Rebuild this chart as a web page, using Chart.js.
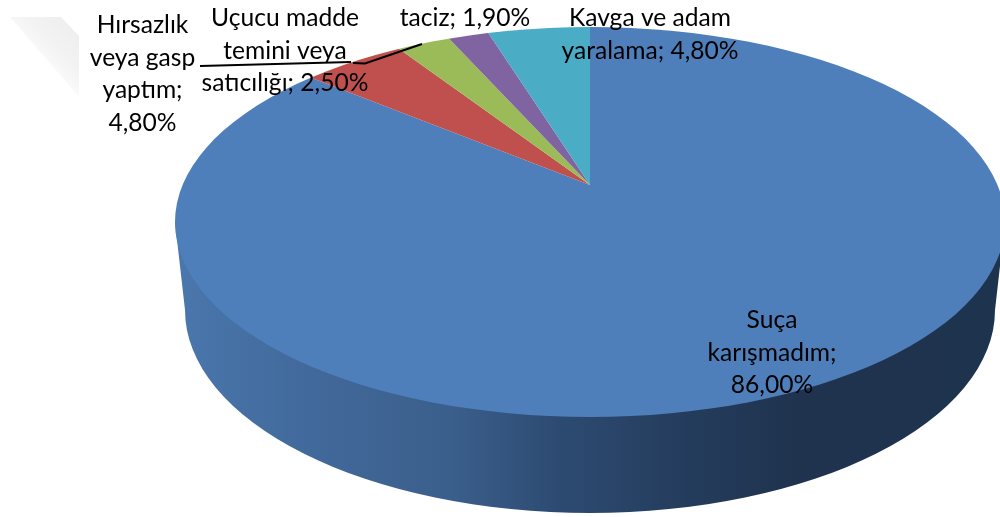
<!DOCTYPE html>
<html><head><meta charset="utf-8">
<style>html,body{margin:0;padding:0;background:#fff}canvas{display:block}</style>
<script src="https://cdn.jsdelivr.net/npm/chart.js@4"></script>
</head><body><canvas id="c" width="1000" height="517"></canvas>
<script>
const categories = ["Suça karışmadım","Hırsazlık veya gasp yaptım","Uçucu madde temini veya satıcılığı","taciz","Kavga ve adam yaralama"];
const values = [86.0,4.8,2.5,1.9,4.8];
const colors = ["#4e7fba","#c0504d","#9bbb59","#8064a2","#4bacc6"];
const wordsPerLine = [[1,1,1],[1,2,1,1],[2,2,3],[3],[3,3]];
const labelCenterX = [772,142.5,285,465,650];
const labelFirstBaseline = [328,33,26,26,26];
const lineStep = 32.6;
const fontCss = "24.6px Lato";

const apex = {x:590,y:185}, squash = 0.465;
const topFace = {x:590,y:222,rx:415,ry:195};
const bottomFace = {x:590,y:310,rx:405,ry:203};

function labelLines(i){
  const words = (categories[i]+"; "+values[i].toFixed(2).replace(".",",")+"%").split(" ");
  let p=0; return wordsPerLine[i].map(n=>{const s=words.slice(p,p+n).join(" ");p+=n;return s;});
}
const pie3d = {
  id:"pie3d",
  beforeDatasetsDraw(chart){
    const ctx=chart.ctx, meta=chart.getDatasetMeta(0), a=meta.data[0];
    // faint background artefact
    ctx.save();
    const g0=ctx.createLinearGradient(72,24,30,64);
    g0.addColorStop(0,"#eeeeee");g0.addColorStop(0.5,"#f3f3f3");g0.addColorStop(1,"#ffffff");
    ctx.fillStyle=g0;ctx.beginPath();ctx.moveTo(10,17);ctx.lineTo(61,17);ctx.lineTo(79,36);ctx.lineTo(79,97);ctx.closePath();ctx.fill();
    ctx.restore();
    // side wall
    ctx.save();
    const g=ctx.createLinearGradient(175,0,1005,0);
    [[0,"#4a77ad"],[0.15,"#426a9c"],[0.33,"#3b5f8c"],[0.46,"#2d4b72"],[0.62,"#243c5c"],[0.75,"#1f334e"],[1,"#1e334d"]].forEach(s=>g.addColorStop(s[0],s[1]));
    ctx.fillStyle=g;ctx.beginPath();
    ctx.moveTo(topFace.x-topFace.rx,topFace.y);
    ctx.lineTo(bottomFace.x-bottomFace.rx,bottomFace.y);
    ctx.ellipse(bottomFace.x,bottomFace.y,bottomFace.rx,bottomFace.ry,0,Math.PI,0,true);
    ctx.lineTo(topFace.x+topFace.rx,topFace.y);
    ctx.closePath();ctx.fill();
    ctx.restore();
    // top face: library arcs, squashed and clipped to the ellipse
    ctx.save();
    ctx.beginPath();ctx.ellipse(topFace.x,topFace.y,topFace.rx,topFace.ry,0,0,Math.PI*2);ctx.clip();
    ctx.translate(apex.x,apex.y);ctx.scale(1,squash);ctx.translate(-a.x,-a.y);
  },
  afterDatasetsDraw(chart){
    const ctx=chart.ctx;
    ctx.restore();
    // leader line
    ctx.save();
    ctx.strokeStyle="#000";ctx.lineWidth=2;ctx.beginPath();
    ctx.moveTo(200,66);ctx.lineTo(351,62);ctx.stroke();
    ctx.beginPath();ctx.moveTo(353,63);ctx.lineTo(365,63.5);ctx.lineTo(422,44);ctx.stroke();
    // labels
    ctx.fillStyle="#000";ctx.font=fontCss;ctx.textAlign="center";ctx.textBaseline="alphabetic";
    categories.forEach((c,i)=>{
      labelLines(i).forEach((t,j)=>ctx.fillText(t,labelCenterX[i],labelFirstBaseline[i]+j*lineStep));
    });
    ctx.restore();
  }
};
new Chart(document.getElementById("c"),{
  type:"pie",
  data:{labels:categories,datasets:[{data:values,backgroundColor:colors,borderWidth:0,clip:false}]},
  options:{responsive:false,animation:false,radius:560,
    plugins:{legend:{display:false},tooltip:{enabled:false},title:{display:false}},
    layout:{padding:0}},
  plugins:[pie3d]
});
</script></body></html>
